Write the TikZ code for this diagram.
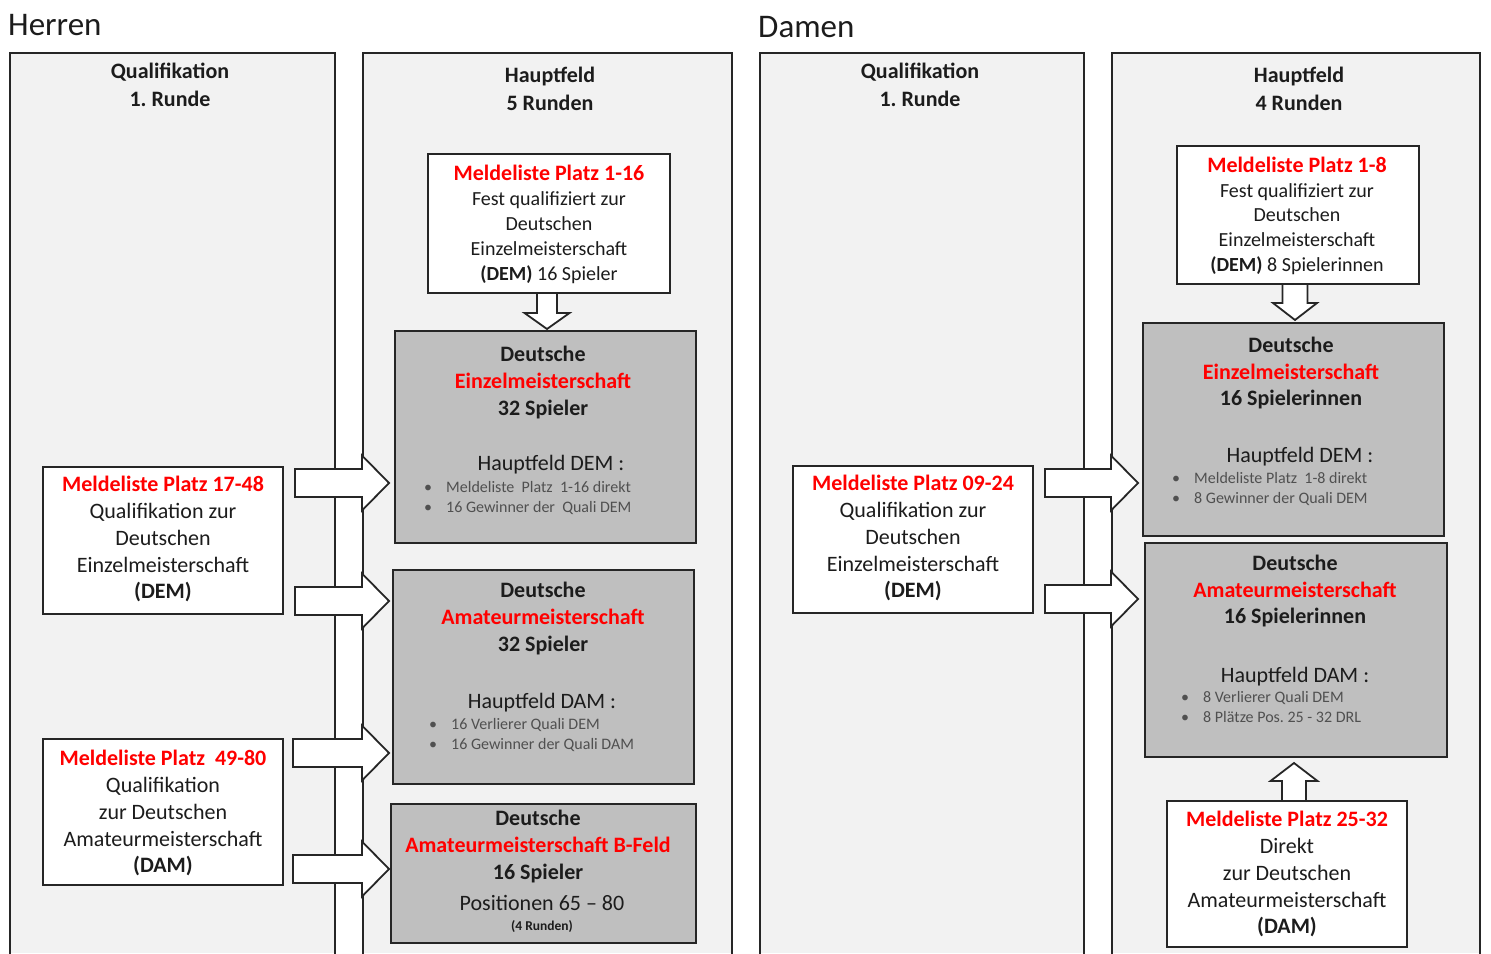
\documentclass[tikz,border=0pt]{standalone}
\usepackage{fontspec}
\setmainfont{Carlito}
\usetikzlibrary{calc}
\frenchspacing
\definecolor{colgray}{HTML}{F2F2F2}
\definecolor{boxgray}{HTML}{BFBFBF}
\definecolor{linec}{HTML}{262626}
\definecolor{txtc}{HTML}{1C1C1C}
\definecolor{bulc}{HTML}{505050}
\definecolor{rd}{HTML}{FF0000}
\newcommand\fs[2]{\fontsize{#1}{#2}\selectfont}
\newcommand\rt[1]{\textcolor{rd}{\textbf{#1}}}
\newcommand\rtb[1]{\textcolor{rd}{\fontsize{22}{25}\selectfont\textbf{#1}}}
\newcommand\bl{\makebox[22pt][l]{\textbullet}}
\newcommand\rarr[2]{\draw[barrow] let \p1=(#1), \p2=(#2) in
  (\x1,\y1+14pt) -- (\x2-27pt,\y1+14pt) -- (\x2-27pt,\y1+27.5pt) -- (\x2,\y1)
  -- (\x2-27pt,\y1-27.5pt) -- (\x2-27pt,\y1-14pt) -- (\x1,\y1-14pt) -- cycle;}
\newcommand\varr[5]{\draw[barrow] let \p1=(#1), \p2=(#2) in
  (\x2-#3pt,\y1) -- (\x2-#3pt,\y2+#5pt) -- (\x2-#4pt,\y2+#5pt) -- (\x2,\y2)
  -- (\x2+#4pt,\y2+#5pt) -- (\x2+#3pt,\y2+#5pt) -- (\x2+#3pt,\y1) -- cycle;}
\tikzset{
  colfill/.style={fill=colgray},
  colline/.style={draw=linec, line width=2pt},
  wbox/.style={draw=linec, fill=white, line width=2pt, inner sep=0pt, outer sep=0pt},
  gbox/.style={draw=linec, fill=boxgray, line width=2pt, inner sep=0pt, outer sep=0pt},
  txt/.style={align=center, inner sep=0pt, text=txtc},
  hdr/.style={txt, font=\fs{22}{28}\bfseries},
  wtxt/.style={txt, font=\fs{20}{25}},
  qtxt/.style={txt, font=\fs{22}{26.75}},
  gtxt/.style={txt, font=\fs{22}{27}\bfseries},
  htxt/.style={txt, font=\fs{22}{27}, anchor=base},
  btxt/.style={align=left, inner sep=0pt, text=bulc, font=\fs{16}{20}, anchor=west},
  title/.style={inner sep=0pt, text=txtc, font=\fs{33}{36}, anchor=base west},
  barrow/.style={draw=linec, fill=white, line width=1.8pt, line join=miter},
}
\begin{document}
\begin{tikzpicture}[x=1pt,y=-1pt]
\useasboundingbox[fill=white] (0,0) rectangle (1491,953);
% titles
\node[title] (tH) at (8,35) {Herren};
\node[title] (tD) at (758,37) {Damen};
% columns
\foreach \a/\b in {10/335, 363/732, 760/1084, 1112/1480}{
  \fill[colfill] (\a,53) rectangle (\b,953);
  \draw[colline] (\a,960) -- (\a,53) -- (\b,53) -- (\b,960);
}
% column headers
\node[hdr] (h1) at (170,87) {\strut Qualifikation\\1. Runde\strut};
\node[hdr] (h2) at (550,91) {\strut Hauptfeld\\5 Runden\strut};
\node[hdr] (h3) at (920,87) {\strut Qualifikation\\1. Runde\strut};
\node[hdr] (h4) at (1299,91) {\strut Hauptfeld\\4 Runden\strut};
% ---------- Herren boxes
\node[wbox, minimum width=242pt, minimum height=139pt] (H1) at (549,223.5) {};
\node[gbox, minimum width=301pt, minimum height=212pt] (HDEM) at (545.5,437) {};
\node[gbox, minimum width=301pt, minimum height=214pt] (HDAM) at (543.5,677) {};
\node[gbox, minimum width=305pt, minimum height=139pt] (HB) at (543.5,873.5) {};
\node[wbox, minimum width=240pt, minimum height=147pt] (HQ1) at (163,540.5) {};
\node[wbox, minimum width=240pt, minimum height=146pt] (HQ2) at (163,812) {};
% ---------- Damen boxes
\node[wbox, minimum width=240pt, minimum height=147pt] (DQ) at (913,539.5) {};
\node[wbox, minimum width=242pt, minimum height=138pt] (D1) at (1298,215) {};
\node[gbox, minimum width=301pt, minimum height=213pt] (DDEM) at (1293.5,429.5) {};
\node[gbox, minimum width=302pt, minimum height=214pt] (DDAM) at (1296,650) {};
\node[wbox, minimum width=240pt, minimum height=146pt] (D25) at (1287,874) {};
% ---------- Herren texts
\node[wtxt] (H1t) at (549,225) {\strut\rtb{Meldeliste Platz 1-16}\\Fest qualifiziert zur\\Deutschen\\Einzelmeisterschaft\\\textbf{(DEM)} 16 Spieler\strut};
\node[qtxt] (HQ1t) at (163,540) {\strut\rt{Meldeliste Platz 17-48}\\Qualifikation zur\\Deutschen\\Einzelmeisterschaft\\\textbf{(DEM)}\strut};
\node[qtxt] (HQ2t) at (163,814) {\strut\rt{Meldeliste Platz~ 49-80}\\Qualifikation\\zur Deutschen\\Amateurmeisterschaft\\\textbf{(DAM)}\strut};
\node[gtxt] (HDEMt) at (543,383) {\strut Deutsche\\\textcolor{rd}{Einzelmeisterschaft}\\32 Spieler\strut};
\node[htxt] (HDEMh) at (551,470) {Hauptfeld DEM :};
\node[btxt] (HDEMb) at (424,498) {\strut\bl Meldeliste~ Platz~ 1-16 direkt\\\bl 16 Gewinner der~ Quali DEM\strut};
\node[gtxt] (HDAMt) at (543,619) {\strut Deutsche\\\textcolor{rd}{Amateurmeisterschaft}\\32 Spieler\strut};
\node[htxt] (HDAMh) at (542,708) {Hauptfeld DAM :};
\node[btxt] (HDAMb) at (429,735) {\strut\bl 16 Verlierer Quali DEM\\\bl 16 Gewinner der Quali DAM\strut};
\node[gtxt] (HBt) at (538,847) {\strut Deutsche\\\textcolor{rd}{Amateurmeisterschaft B-Feld}\\16 Spieler\strut};
\node[htxt] (HBp) at (542,910) {Positionen 65 – 80};
\node[txt, anchor=base, font=\fs{13.5}{15}\bfseries] (HBr) at (542,930) {(4 Runden)};
% ---------- Damen texts
\node[qtxt] (DQt) at (913,539) {\strut\rt{Meldeliste Platz 09-24}\\Qualifikation zur\\Deutschen\\Einzelmeisterschaft\\\textbf{(DEM)}\strut};
\node[wtxt, font=\fs{20}{24.75}] (D1t) at (1297,217) {\strut\rtb{Meldeliste Platz 1-8}\\Fest qualifiziert zur\\Deutschen\\Einzelmeisterschaft\\\textbf{(DEM)} 8 Spielerinnen\strut};
\node[gtxt, font=\fs{22}{26.5}\bfseries] (DDEMt) at (1291,374) {\strut Deutsche\\\textcolor{rd}{Einzelmeisterschaft}\\16 Spielerinnen\strut};
\node[htxt] (DDEMh) at (1300,462) {Hauptfeld DEM :};
\node[btxt] (DDEMb) at (1172,489) {\strut\bl Meldeliste Platz~ 1-8 direkt\\\bl 8 Gewinner der Quali DEM\strut};
\node[gtxt, font=\fs{22}{26.5}\bfseries] (DDAMt) at (1295,592) {\strut Deutsche\\\textcolor{rd}{Amateurmeisterschaft}\\16 Spielerinnen\strut};
\node[htxt] (DDAMh) at (1295,682) {Hauptfeld DAM :};
\node[btxt] (DDAMb) at (1181,708) {\strut\bl 8 Verlierer Quali DEM\\\bl 8 Plätze Pos. 25 - 32 DRL\strut};
\node[qtxt] (D25t) at (1287,875) {\strut\rt{Meldeliste Platz 25-32}\\Direkt\\zur Deutschen\\Amateurmeisterschaft\\\textbf{(DAM)}\strut};
% ---------- arrows (Herren)
\coordinate (a1s) at (295,483); \coordinate (a1e) at (389,483);
\coordinate (a2s) at (295,601); \coordinate (a2e) at (389,601);
\coordinate (a3s) at (293,753); \coordinate (a3e) at (389,753);
\coordinate (a4s) at (293,869); \coordinate (a4e) at (389,869);
\rarr{a1s}{a1e}
\rarr{a2s}{a2e}
\rarr{a3s}{a3e}
\rarr{a4s}{a4e}
\coordinate (hd) at (547,329);
\varr{H1.south}{hd}{10}{22.5}{16}
% ---------- arrows (Damen)
\coordinate (b1s) at (1045,483); \coordinate (b1e) at (1138,483);
\coordinate (b2s) at (1045,599); \coordinate (b2e) at (1138,599);
\rarr{b1s}{b1e}
\rarr{b2s}{b2e}
\coordinate (dd) at (1295,320);
\varr{D1.south}{dd}{12.5}{22}{17}
\coordinate (du) at (1294,763);
\varr{D25.north}{du}{12}{23.5}{-18}
\end{tikzpicture}
\end{document}
